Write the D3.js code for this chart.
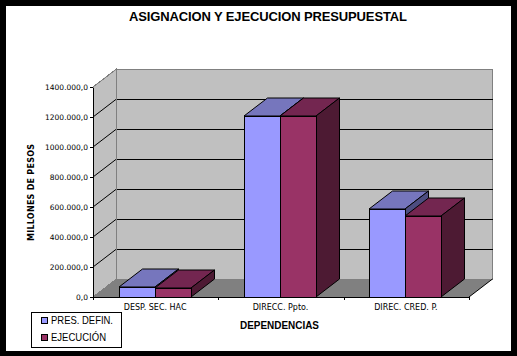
<!DOCTYPE html>
<html><head><meta charset="utf-8">
<script src="https://cdn.jsdelivr.net/npm/d3@7"></script>
<style>html,body{margin:0;padding:0;background:#000;overflow:hidden}svg{display:block}</style>
</head><body><svg id="c" width="517" height="356"></svg>
<script>
const categories = ["DESP. SEC. HAC", "DIRECC. Ppto.", "DIREC. CRED. P."];
const seriesNames = ["PRES. DEFIN.", "EJECUCIÓN"];
const presDefin = [65000, 1205000, 585000];
const ejecucion = [63000, 1205000, 538000];
const yTicks = [0,200000,400000,600000,800000,1000000,1200000,1400000];
const titleText = "ASIGNACION Y EJECUCION PRESUPUESTAL";
const xTitle = "DEPENDENCIAS";
const yTitle = "MILLONES DE PESOS";
const front = ["#9999FF", "#993366"], topC = ["#7676BD", "#732650"], sideC = ["#4D4D80", "#4D1A33"];

const svg = d3.select("#c");
const L=93,R=469,T=87,B=297,DX=23.5,DY=18;
svg.append("rect").attr("width",517).attr("height",356).attr("fill","#000");
svg.append("rect").attr("x",6).attr("y",6).attr("width",505).attr("height",345).attr("fill","#fff");
const y = d3.scaleLinear().domain([0,1400000]).range([B,T]);
const x = d3.scaleBand().domain(categories).range([L-0.5,R-0.5]).paddingInner(0.424).paddingOuter(0.212);
const xs = d3.scaleBand().domain([0,1]).range([0,x.bandwidth()]);
const g = svg.append("g").attr("shape-rendering","crispEdges");
const poly=(pts,fill,stroke)=>g.append("polygon").attr("points",pts.map(p=>p.join(",")).join(" ")).attr("fill",fill).attr("stroke",stroke||"none");
const line=(a,c)=>g.append("line").attr("x1",a[0]).attr("y1",a[1]).attr("x2",a[2]).attr("y2",a[3]).attr("stroke",c).attr("shape-rendering","auto");
// walls
poly([[L+DX,T-DY],[R+DX,T-DY],[R+DX,B-DY],[L+DX,B-DY]],"#C0C0C0","#808080");
poly([[L,T],[L+DX,T-DY],[L+DX,B-DY],[L,B]],"#C0C0C0","#808080");
poly([[L,B],[L+DX,B-DY],[R+DX,B-DY],[R,B]],"#808080");
yTicks.filter(d=>d>0&&d<1400000).forEach(d=>{
  line([L,y(d),L+DX,y(d)-DY],"#000");
  g.append("line").attr("x1",L+DX).attr("x2",R+DX).attr("y1",Math.round(y(d)-DY)).attr("y2",Math.round(y(d)-DY)).attr("stroke","#000");
});
line([L+DX,T-DY,L+DX,B-DY],"#808080");
line([L,T,L+DX,T-DY],"#808080");
line([R,B,R+DX,B-DY],"#000");
// bars
categories.forEach((c,i)=>{
  [presDefin,ejecucion].forEach((arr,s)=>{
    const x0=Math.floor(x(c)+xs(s)), x1=Math.floor(x(c)+xs(s)+xs.bandwidth()), yt=Math.round(y(arr[i]));
    const a=g.append("g");
    const p=(pts,f)=>a.append("polygon").attr("points",pts.map(q=>q.join(",")).join(" ")).attr("fill",f).attr("stroke","#000").attr("stroke-width",1).attr("shape-rendering","auto");
    p([[x0,yt],[x0+DX,yt-DY],[x1+DX,yt-DY],[x1,yt]],topC[s]);
    p([[x1,yt],[x1+DX,yt-DY],[x1+DX,B-DY],[x1,B]],sideC[s]);
    a.append("rect").attr("x",x0).attr("y",yt).attr("width",x1-x0).attr("height",B-yt).attr("fill",front[s]).attr("stroke","#000");
  });
});
// axes
const fmt=d=>d===0?"0,0":(d/1000)+".000,0";
const ya=d3.axisLeft(y).tickValues(yTicks).tickSize(3).tickSizeOuter(0).tickPadding(2).tickFormat(fmt);
const yg=svg.append("g").attr("transform",`translate(${L},0)`).call(ya);
const xa=d3.axisBottom(x).tickSize(0).tickPadding(7);
const xg=svg.append("g").attr("transform",`translate(0,${B})`).call(xa);
[yg,xg].forEach(s=>{s.selectAll("line,path").attr("stroke","#000").attr("shape-rendering","crispEdges");});
yg.selectAll("text").attr("fill","#000").style("font","7.5px 'DejaVu Sans'");
xg.selectAll("text").attr("fill","#000").style("font","8px 'DejaVu Sans'");
categories.forEach((c,i)=>{const tx=Math.round(L+(R-L)*(i+1)/3);xg.append("line").attr("x1",tx).attr("x2",tx).attr("y1",0).attr("y2",3).attr("stroke","#000").attr("shape-rendering","crispEdges");});
xg.append("line").attr("x1",L).attr("x2",L).attr("y1",0).attr("y2",3).attr("stroke","#000").attr("shape-rendering","crispEdges");
// titles
svg.append("text").attr("x",268).attr("y",21).attr("text-anchor","middle").attr("textLength",278).attr("lengthAdjust","spacing").style("font","bold 13px 'Liberation Sans'").text(titleText);
svg.append("text").attr("x",279.5).attr("y",329).attr("text-anchor","middle").attr("textLength",79).attr("lengthAdjust","spacingAndGlyphs").style("font","bold 11px 'Liberation Sans'").text(xTitle);
svg.append("text").attr("transform","translate(34,192.5) rotate(-90)").attr("text-anchor","middle").attr("textLength",97).style("font","bold 8px 'DejaVu Sans'").text(yTitle);
// legend
const legendW=[62,55];
svg.append("rect").attr("x",31.5).attr("y",312.5).attr("width",90).attr("height",35).attr("fill","#fff").attr("stroke","#000").attr("shape-rendering","crispEdges");
seriesNames.forEach((n,i)=>{
  const yy=317.5+i*17;
  svg.append("rect").attr("x",41.5).attr("y",yy).attr("width",6).attr("height",6).attr("fill",front[i]).attr("stroke","#000").attr("shape-rendering","crispEdges");
  svg.append("text").attr("x",51).attr("y",yy+6.5).attr("textLength",legendW[i]).attr("lengthAdjust","spacingAndGlyphs").style("font","11px 'Liberation Sans'").text(n);
});
</script></body></html>
